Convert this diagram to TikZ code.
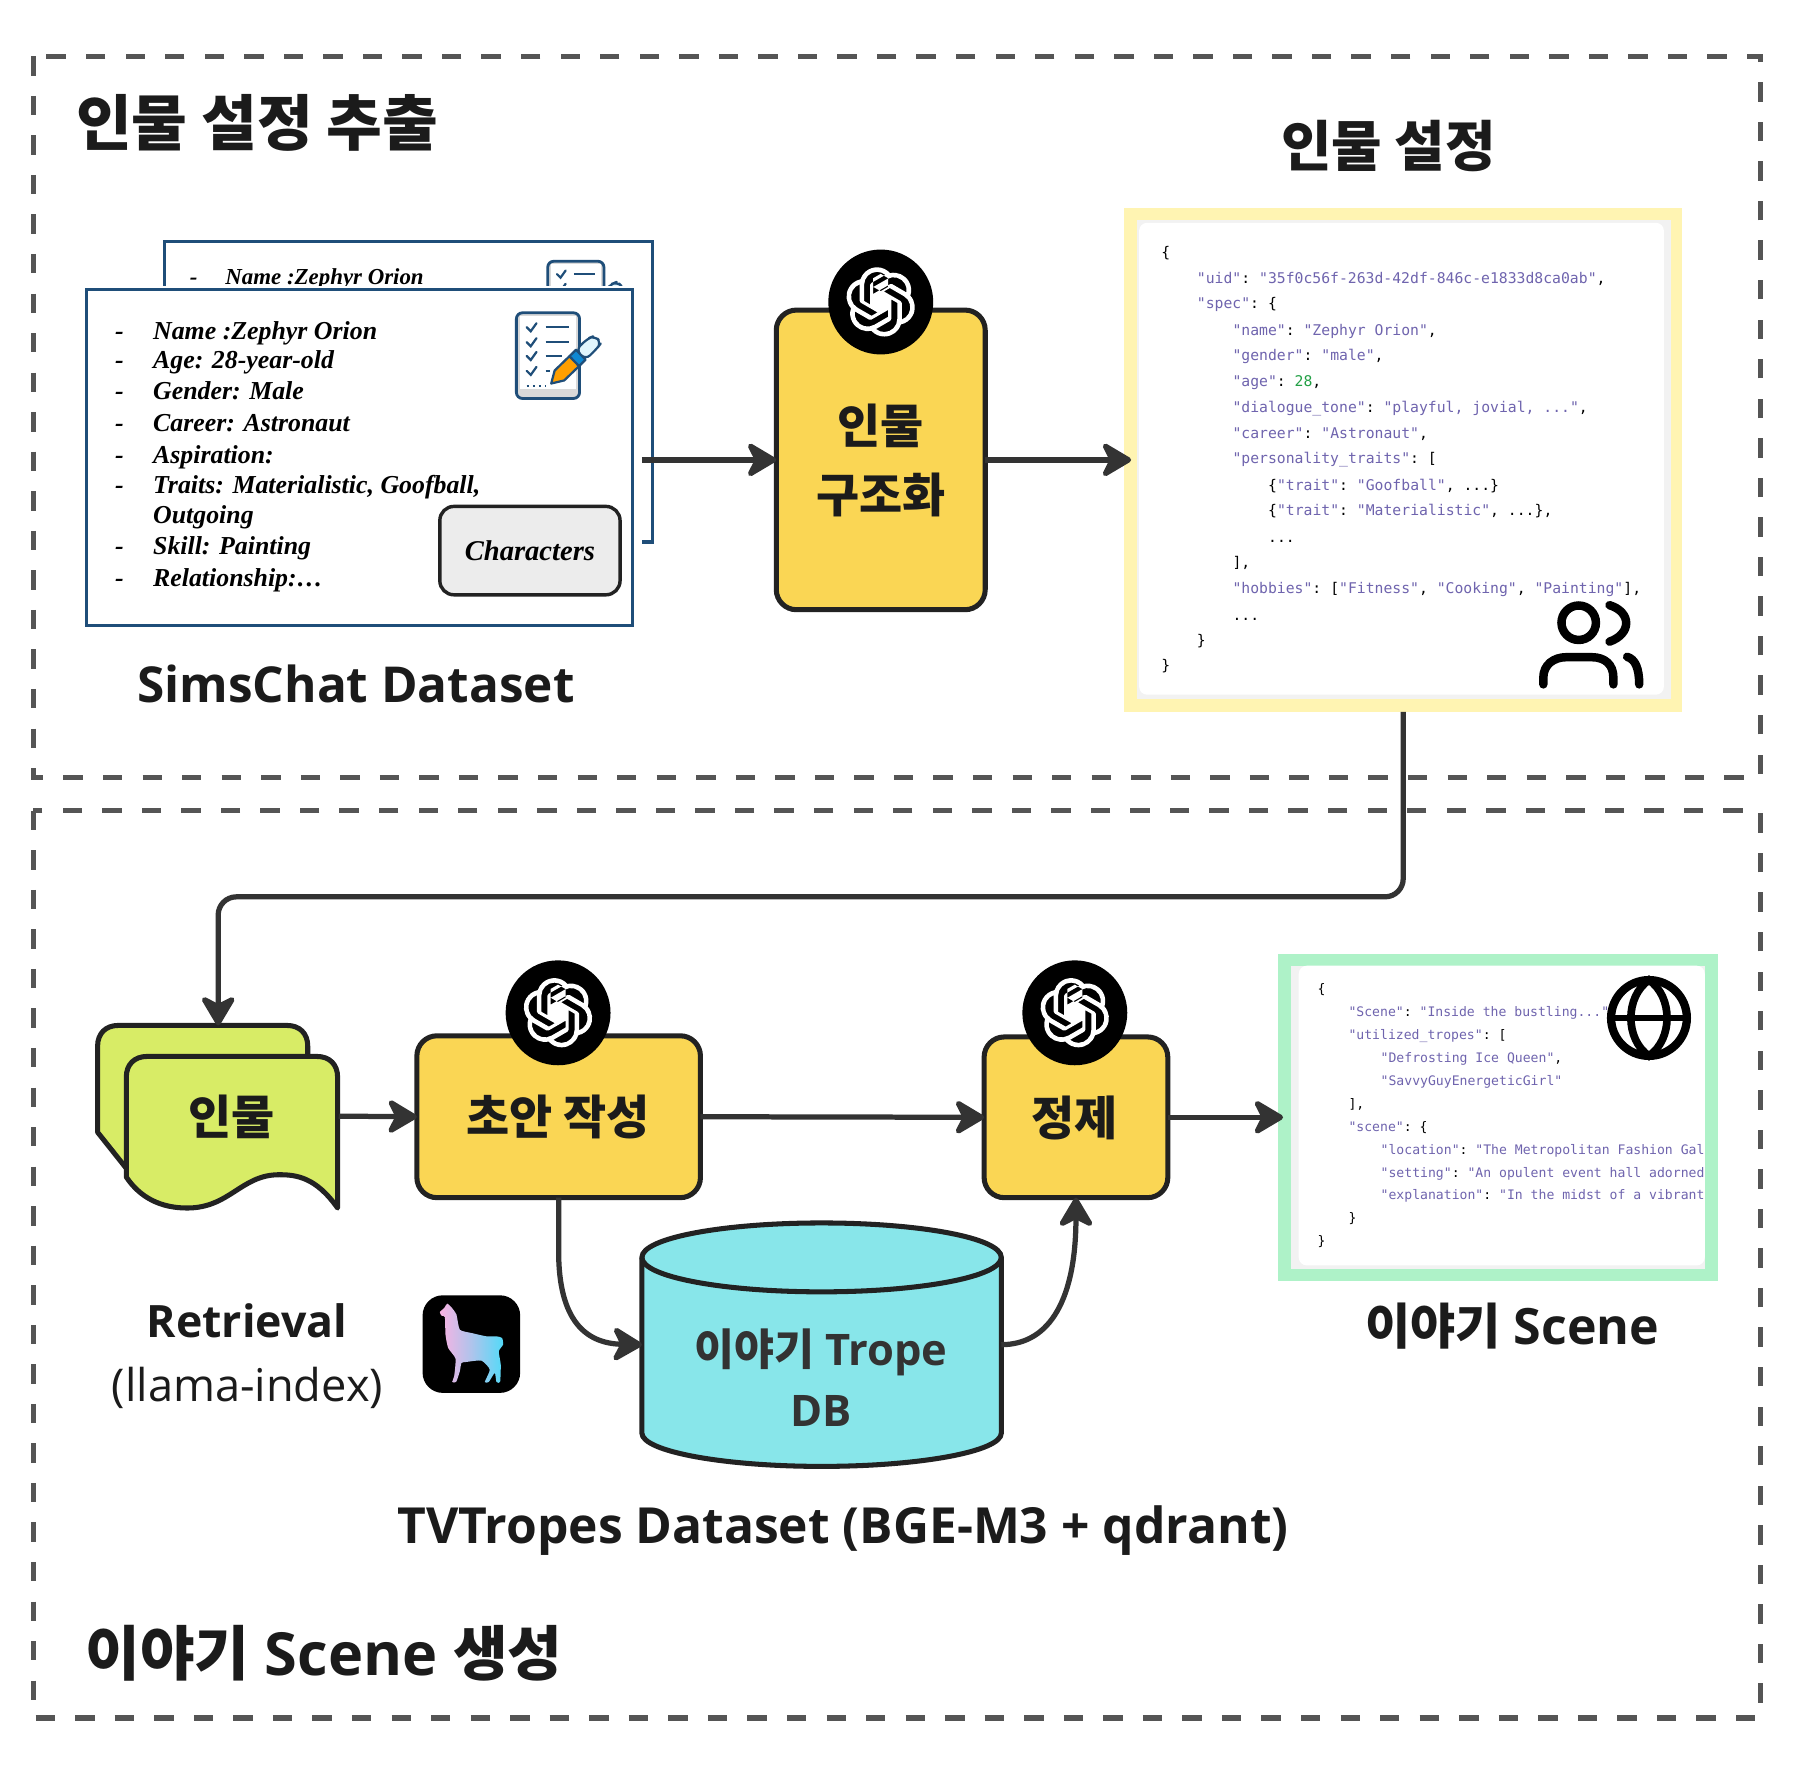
\documentclass[tikz,border=0pt]{standalone}
\usepackage{fontspec}
\usetikzlibrary{arrows.meta,svg.path}
\setmainfont{Open Sans}
\newfontfamily\krf{Noto Sans CJK KR}
\newfontfamily\timesf{Liberation Serif}
\setmonofont{DejaVu Sans Mono}
\newcommand\fsz[1]{\fontsize{\fpeval{#1*0.5669}pt}{\fpeval{#1*0.68}pt}\selectfont}
\definecolor{ink}{HTML}{1B1B1B}
\definecolor{edge}{HTML}{222222}
\definecolor{wire}{HTML}{333333}
\definecolor{dashc}{HTML}{555555}
\definecolor{navy}{HTML}{1F4E79}
\definecolor{amber}{HTML}{FAD654}
\definecolor{lime}{HTML}{D8EC66}
\definecolor{aqua}{HTML}{88E6EA}
\definecolor{paleyel}{HTML}{FFF4B2}
\definecolor{palegrn}{HTML}{AEF2C8}
\definecolor{jp}{HTML}{6F64AE}
\definecolor{jg}{HTML}{22A045}
\definecolor{llpink}{HTML}{FAB2E2}
\definecolor{llblue}{HTML}{52DAF8}
\newcommand\ps[1]{\textcolor{jp}{#1}}
\tikzset{
  x=0.02cm,y=-0.02cm,
  zone/.style={draw=dashc,line width=2.6pt,dash pattern=on 9.6pt off 10pt},
  card/.style={draw=navy,line width=1.5pt,fill=white},
  procbox/.style={draw=edge,fill=amber,line width=2.5pt,rounded corners=10pt,inner sep=0pt,outer sep=0pt,align=center},
  gptdisc/.style={circle,fill=black,minimum size=52pt,inner sep=0pt},
  arr/.style={draw=wire,line width=2.6pt,-{Stealth[length=17pt,width=20pt,inset=5pt,round]},fill=none},
  lbl/.style={text=ink,inner sep=0pt,align=center},
  krb/.style={lbl,font=\krf\bfseries\fsz{#1}},
  sansb/.style={lbl,font=\bfseries\fsz{#1}},
  cardt/.style={anchor=base west,inner sep=0pt,font=\timesf\bfseries\itshape\fsz{#1},text=black},
  jt/.style={anchor=base west,inner sep=0pt,font=\ttfamily\fsz{#1},text=black},
  gptlogo/.pic={
    \fill[white,even odd rule,shift={(-17.2pt,17.2pt)},yscale=-1,scale=1.43] svg "M22.2819 9.8211a5.9847 5.9847 0 0 0-.5157-4.9108 6.0462 6.0462 0 0 0-6.5098-2.9A6.0651 6.0651 0 0 0 4.9807 4.1818a5.9847 5.9847 0 0 0-3.9977 2.9 6.0462 6.0462 0 0 0 .7427 7.0966 5.98 5.98 0 0 0 .511 4.9107 6.051 6.051 0 0 0 6.5146 2.9001A5.9847 5.9847 0 0 0 13.2599 24a6.0557 6.0557 0 0 0 5.7718-4.2058 5.9894 5.9894 0 0 0 3.9977-2.9001 6.0557 6.0557 0 0 0-.7475-7.0729zm-9.022 12.6081a4.4755 4.4755 0 0 1-2.8764-1.0408l.1419-.0804 4.7783-2.7582a.7948.7948 0 0 0 .3927-.6813v-6.7369l2.02 1.1686a.071.071 0 0 1 .038.052v5.5826a4.504 4.504 0 0 1-4.4945 4.4944zm-9.6607-4.1254a4.4708 4.4708 0 0 1-.5346-3.0137l.142.0852 4.783 2.7582a.7712.7712 0 0 0 .7806 0l5.8428-3.3685v2.3324a.0804.0804 0 0 1-.0332.0615L9.74 19.9502a4.4992 4.4992 0 0 1-6.1408-1.6464zM2.3408 7.8956a4.485 4.485 0 0 1 2.3655-1.9728V11.6a.7664.7664 0 0 0 .3879.6765l5.8144 3.3543-2.0201 1.1685a.0757.0757 0 0 1-.071 0l-4.8303-2.7865A4.504 4.504 0 0 1 2.3408 7.872zm16.5963 3.8558L13.1038 8.364 15.1192 7.2a.0757.0757 0 0 1 .071 0l4.8303 2.7913a4.4944 4.4944 0 0 1-.6765 8.1042v-5.6772a.79.79 0 0 0-.407-.667zm2.0107-3.0231l-.142-.0852-4.7735-2.7818a.7759.7759 0 0 0-.7854 0L9.409 9.2297V6.8974a.0662.0662 0 0 1 .0284-.0615l4.8303-2.7866a4.4992 4.4992 0 0 1 6.6802 4.66zM8.3065 12.863l-2.02-1.1638a.0804.0804 0 0 1-.038-.0567V6.0742a4.4992 4.4992 0 0 1 7.3757-3.4537l-.142.0805L8.704 5.459a.7948.7948 0 0 0-.3927.6813zm1.0976-2.3654l2.602-1.4998 2.6069 1.4998v2.9994l-2.5974 1.4997-2.6067-1.4997Z";
  },
  clist/.pic={
    \draw[navy,line width=1.4pt,fill=gray!30,rounded corners=3pt] (0,0) rectangle (55,74.6);
    \fill[white] (3,3) rectangle (52,66);
    \foreach \yy in {12.6,25.6,37.6,50.6}{
      \draw[navy,line width=1.1pt,line cap=round] (9,\yy) -- (12.5,\yy+3.5) -- (17.5,\yy-3.5);
    }
    \draw[navy,line width=1.2pt] (25.5,12.6) -- (46,12.6) (25.5,25.6) -- (46,25.6) (25.5,37.6) -- (40,37.6) (25.5,50.6) -- (29.5,50.6);
    \draw[navy,line width=1.2pt,dash pattern=on 1.3pt off 1.7pt] (9,63.5) -- (25.5,63.5);
    \draw[navy,line width=1.1pt,fill=orange!75!yellow,line join=round] (30.3,61.6) -- (33.3,50.3) -- (46.2,37.8) -- (54.6,46.4) -- (41.65,58.9) -- cycle;
    \draw[navy,line width=1.1pt,fill=cyan!70!blue,line join=round] (46.2,37.8) -- (51.9,32.2) -- (60.3,40.8) -- (54.6,46.4) -- cycle;
    \draw[navy,line width=1.1pt,fill=cyan!12,line join=round,rounded corners=3pt] (51.9,32.2) -- (62,22.45) -- (68,20) -- (74,26) -- (70.3,31) -- (60.3,40.8) -- cycle;
  }
}
\begin{document}
\begin{tikzpicture}
\useasboundingbox (0,0) rectangle (1568.4,1551);
% zones
\draw[zone] (29,49) rectangle (1533,677);
\draw[zone] (29,706) rectangle (1533,1496);
\node[krb=53,anchor=west] (t1) at (66,107) {인물 설정 추출};
\node[krb=48] (t2) at (1209,127) {인물 설정};
\node[lbl,anchor=west,font=\bfseries\fsz{52}] (t3) at (74,1440) {{\krf 이야기} Scene {\krf 생성}};

% back card
\draw[card] (143,210) rectangle (568,472);
\node[cardt=20] (bn) at (196,248) {Name :Zephyr Orion};
\node[cardt=20] (bd) at (165,248) {-};
\pic[scale=0.89] at (477,227.5) {clist};
\fill[white] (135,249) rectangle (559,485);
% front card
\node[card,minimum width=9.52cm,minimum height=5.86cm,inner sep=0pt] (front) at (313,398.5) {};
\foreach \n/\yy/\tt in {a/296/Name :Zephyr Orion,b/321/Age: 28-year-old,c/348/Gender: Male,d/376/Career: Astronaut,e/404/Aspiration:,f/430/{Traits: Materialistic, Goofball,},h/483/Skill: Painting,i/511/Relationship:…}{
  \node[cardt=22.6] (l\n) at (133,\yy) {\tt};
  \node[cardt=22.6] (dash\n) at (100,\yy) {-};
}
\node[cardt=22.6] (lg) at (133,456) {Outgoing};
\pic at (449.7,272.4) {clist};
\node[draw=edge,fill=gray!15,line width=1.7pt,rounded corners=7pt,minimum width=3.14cm,minimum height=1.54cm,inner sep=0pt,font=\timesf\bfseries\itshape\fsz{25},text=black] (chars) at (461.5,479.5) {\raisebox{-1.5pt}{Characters}};
\node[sansb=43.3] (sims) at (310,596) {SimsChat Dataset};

% structuring
\node[procbox,minimum width=3.64cm,minimum height=5.22cm] (struct) at (767,400.5) {};
\node[krb=41] (st1) at (767,371) {인물};
\node[krb=41] (st2) at (767,431) {구조화};
\node[gptdisc] (g1) at (767,263) {};
\pic at (767,263) {gptlogo};

% person spec
\node[fill=paleyel,minimum width=9.72cm,minimum height=8.78cm,inner sep=0pt,outer sep=0pt] (spec) at (1222,400.5) {};
\fill[gray!10] (990,192) rectangle (1455,609);
\fill[white,rounded corners=4pt] (992,194) rectangle (1449,605);
\node[jt=12.9] (s1) at (1011,224) {\{};
\node[jt=12.9] (s2) at (1042,247) {\ps{"uid"}: \ps{"35f0c56f-263d-42df-846c-e1833d8ca0ab"},};
\node[jt=12.9] (s3) at (1042,269) {\ps{"spec"}: \{};
\node[jt=12.9] (s4) at (1073,292) {\ps{"name"}: \ps{"Zephyr Orion"},};
\node[jt=12.9] (s5) at (1073,314) {\ps{"gender"}: \ps{"male"},};
\node[jt=12.9] (s6) at (1073,337) {\ps{"age"}: \textcolor{jg}{28},};
\node[jt=12.9] (s7) at (1073,359) {\ps{"dialogue\_tone"}: \ps{"playful, jovial, ..."},};
\node[jt=12.9] (s8) at (1073,382) {\ps{"career"}: \ps{"Astronaut"},};
\node[jt=12.9] (s9) at (1073,404) {\ps{"personality\_traits"}: [};
\node[jt=12.9] (s10) at (1104,427) {\{\ps{"trait"}: \ps{"Goofball"}, ...\}};
\node[jt=12.9] (s11) at (1104,449) {\{\ps{"trait"}: \ps{"Materialistic"}, ...\},};
\node[jt=12.9] (s12) at (1104,472) {...};
\node[jt=12.9] (s13) at (1073,494) {],};
\node[jt=12.9] (s14) at (1073,517) {\ps{"hobbies"}: [\ps{"Fitness"}, \ps{"Cooking"}, \ps{"Painting"}],};
\node[jt=12.9] (s15) at (1073,540) {...};
\node[jt=12.9] (s16) at (1042,562) {\}};
\node[jt=12.9] (s17) at (1011,584) {\}};
% people icon
\begin{scope}[black,line width=4.2pt,line cap=round]
\draw (1374.8,542.3) circle[radius=15];
\draw (1401.6,527) .. controls (1421,533) and (1421,552) .. (1401.6,558.8);
\draw (1344,596) -- (1344,590) .. controls (1344,579) and (1353,572.3) .. (1364,572.3) -- (1386,572.3) .. controls (1398,572.3) and (1405,579) .. (1405,590) -- (1405,596);
\draw (1417,572) .. controls (1424,574) and (1427.5,582) .. (1427.5,596);
\end{scope}

% lower: character documents
\draw[draw=edge,fill=lime,line width=2.5pt,line join=round] (85,986) -- (85,911) .. controls (85,900) and (92,893) .. (103,893) -- (250,893) .. controls (261,893) and (268,900) .. (268,911) -- (268,940) -- (120,1030) -- cycle;
\draw[draw=edge,fill=lime,line width=2.5pt,line join=round] (110,1025) -- (110,938) .. controls (110,927) and (117,920) .. (128,920) -- (276,920) .. controls (287,920) and (294,927) .. (294,938) -- (294,1052) .. controls (275,1025) and (258,1023) .. (243,1023) .. controls (210,1023) and (200,1052) .. (163,1052) .. controls (140,1052) and (122,1043) .. (110,1025) -- cycle;
\node[krb=41] (doc) at (202,973) {인물};
\coordinate (docin) at (190,893);
\coordinate (docout) at (295,972);

\node[procbox,minimum width=4.94cm,minimum height=2.82cm] (draft) at (486.5,972.5) {};
\node[krb=41] (dt) at (486,973) {초안 작성};
\node[gptdisc] (g2) at (486,882) {};
\pic at (486,882) {gptlogo};
\node[procbox,minimum width=3.2cm,minimum height=2.8cm] (refine) at (937,973) {};
\node[krb=41] (rt) at (936,974) {정제};
\node[gptdisc] (g3) at (936,882) {};
\pic at (936,882) {gptlogo};

% database
\draw[draw=edge,fill=aqua,line width=2.5pt] (559,1095) -- (559,1248) .. controls (559,1264) and (630,1277) .. (715.5,1277) .. controls (801,1277) and (872,1264) .. (872,1248) -- (872,1095) .. controls (872,1078) and (801,1065) .. (715.5,1065) .. controls (630,1065) and (559,1078) .. (559,1095) -- cycle;
\draw[draw=edge,line width=2.5pt] (559,1095) .. controls (559,1112) and (630,1125) .. (715.5,1125) .. controls (801,1125) and (872,1112) .. (872,1095);
\node[minimum width=6.26cm,minimum height=4.24cm,inner sep=0pt,outer sep=0pt] (db) at (715.5,1171) {};
\node[lbl,font=\bfseries\fsz{38},text=wire] (dbt1) at (715,1178) {{\krf 이야기} Trope};
\node[lbl,font=\bfseries\fsz{38},text=wire] (dbt2) at (715,1229) {DB};
\node[sansb=43.5] (tv) at (734,1333) {TVTropes Dataset (BGE-M3 + qdrant)};

% scene box
\node[fill=palegrn,minimum width=7.65cm,minimum height=5.7cm,inner sep=0pt,outer sep=0pt] (scene) at (1304.5,973) {};
\fill[gray!10] (1124,841) rectangle (1484.6,1105);
\fill[white,rounded corners=4pt] (1131,841) -- (1131,1102) -- (1484.6,1102) -- (1484.6,841) -- cycle;
\node[jt=11.47] (c1) at (1147,865) {\{};
\node[jt=11.47] (c2) at (1174,885) {\ps{"Scene"}: \ps{"Inside the bustling..."}};
\node[jt=11.47] (c3) at (1174,905) {\ps{"utilized\_tropes"}: [};
\node[jt=11.47] (c4) at (1202,925) {\ps{"Defrosting Ice Queen"},};
\node[jt=11.47] (c5) at (1202,945) {\ps{"SavvyGuyEnergeticGirl"}};
\node[jt=11.47] (c6) at (1174,965) {],};
\node[jt=11.47] (c7) at (1174,985) {\ps{"scene"}: \{};
\node[jt=11.47] (c8) at (1202,1005) {\ps{"location"}: \ps{"The Metropolitan Fashion Gal}};
\node[jt=11.47] (c9) at (1202,1025) {\ps{"setting"}: \ps{"An opulent event hall adorned}};
\node[jt=11.47] (c10) at (1202,1045) {\ps{"explanation"}: \ps{"In the midst of a vibrant}};
\node[jt=11.47] (c11) at (1174,1065) {\}};
\node[jt=11.47] (c12) at (1147,1085) {\}};
% globe
\begin{scope}[black]
\draw[line width=4.1pt] (1436,886.5) circle[radius=33];
\draw[line width=3.8pt] (1436,853.5) .. controls (1415,868) and (1415,905) .. (1436,919.5) .. controls (1457,905) and (1457,868) .. (1436,853.5) -- cycle;
\draw[line width=3.4pt] (1403,886.5) -- (1469,886.5);
\end{scope}
\node[lbl,font=\bfseries\fsz{43.8}] (sc) at (1312,1155) {{\krf\fsz{43} 이야기} Scene};

% retrieval
\node[sansb=39] (ret) at (215,1150) {Retrieval};
\node[lbl,font=\fsz{39.5}] (lli) at (215.5,1209) {(llama-index)};
\node[fill=black,rounded corners=10pt,minimum size=1.7cm,inner sep=0pt] (ll) at (410.5,1170.5) {};
\begin{scope}[shift={(361.3,1118.8)},x=0.0058cm,y=-0.0058cm]
\shade[left color=llpink,right color=llblue,middle color=llpink!55!llblue]
 plot[smooth cycle,tension=0.35] coordinates {(97,57) (88,70) (75,82) (80,93) (90,97) (92,150) (100,190) (122,222) (118,275) (112,292) (124,292) (135,260) (140,235) (155,232) (200,228) (225,255) (210,292) (222,292) (240,265) (245,292) (256,292) (258,240) (252,200) (265,180) (262,160) (245,155) (215,155) (170,145) (135,135) (125,90) (110,68)};
\end{scope}

% connectors
\coordinate (cardout) at (559,400.5);
\draw[arr] (cardout) -- (struct.west);
\draw[arr,shorten >=-3.4pt] (struct.east) -- (spec.west);
\draw[arr,rounded corners=9pt] (spec.south) -- (1222,781) -- (190,781) -- (docin);
\draw[arr] (docout) -- (draft.west);
\draw[arr] (draft.east) -- (refine.west);
\draw[arr,shorten >=-2.3pt] (refine.east) -- (scene.west);
\draw[arr] (draft.south) -- (486.5,1090) .. controls (486.5,1150) and (510,1170) .. (db.west);
\draw[arr] (db.east) .. controls (915,1171) and (937,1130) .. (refine.south);
\end{tikzpicture}
\end{document}
